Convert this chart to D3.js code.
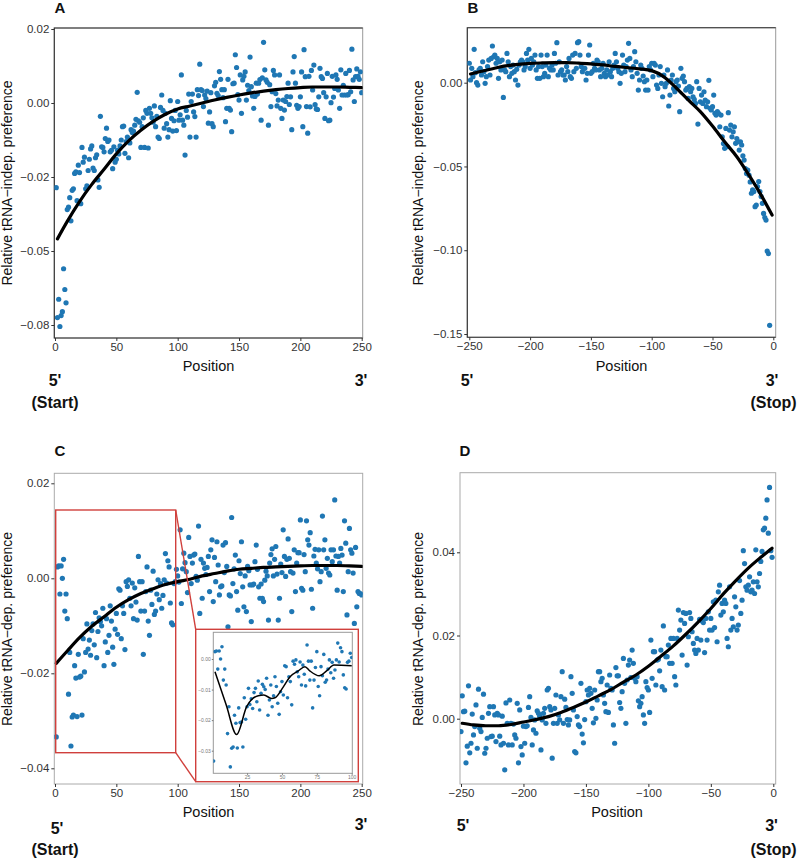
<!DOCTYPE html>
<html><head><meta charset="utf-8">
<script src="https://cdn.jsdelivr.net/npm/d3@7"></script>
<style>
body{margin:0;background:#fff}
svg{display:block}
text{font-family:"Liberation Sans",Arial,Helvetica,sans-serif}
</style>
</head><body>
<svg id="chart" width="797" height="861"></svg>
<script>
// ---------------- DATA ----------------
const posA = d3.range(1, 251);
const valA = [
-0.0286,-0.0725,-0.0663,-0.0755,-0.0718,-0.0705,-0.0560,-0.0630,-0.0675,-0.0360,
-0.0352,-0.0320,-0.0398,-0.0295,-0.0290,-0.0238,-0.0233,-0.0330,-0.0210,-0.0235,
-0.0340,-0.0150,-0.0200,-0.0183,-0.0290,-0.0280,-0.0228,-0.0190,-0.0155,-0.0145,
-0.0220,-0.0228,-0.0185,-0.0175,-0.0260,-0.0285,-0.0045,-0.0148,-0.0150,-0.0165,
-0.0120,-0.0085,-0.0130,-0.0125,-0.0165,-0.0160,-0.0222,-0.0148,-0.0200,-0.0190,
-0.0160,-0.0172,-0.0145,-0.0125,-0.0080,-0.0078,-0.0170,-0.0130,-0.0115,-0.0185,
-0.0135,-0.0090,-0.0100,-0.0095,-0.0075,-0.0055,0.0036,-0.0060,-0.0065,-0.0150,
-0.0080,-0.0050,-0.0150,-0.0025,-0.0035,-0.0152,-0.0018,-0.0035,-0.0050,-0.0065,
-0.0010,-0.0080,-0.0045,-0.0115,-0.0120,-0.0015,0.0027,-0.0025,-0.0085,-0.0035,
-0.0070,-0.0115,-0.0090,0.0008,-0.0052,-0.0095,-0.0060,-0.0025,-0.0093,0.0005,
-0.0058,-0.0040,0.0095,-0.0058,-0.0075,-0.0176,-0.0025,-0.0048,0.0030,-0.0115,
0.0005,0.0030,-0.0030,-0.0046,-0.0115,0.0045,0.0025,0.0131,0.0045,0.0042,
-0.0012,0.0027,0.0015,0.0040,-0.0068,-0.0030,0.0035,-0.0070,-0.0080,0.0058,
0.0070,0.0033,0.0025,0.0106,0.0080,0.0045,0.0018,0.0045,-0.0063,-0.0018,
0.0080,-0.0018,-0.0024,-0.0097,0.0065,0.0067,0.0163,0.0120,0.0028,0.0010,
0.0095,-0.0035,0.0078,0.0090,0.0105,0.0010,0.0060,0.0042,0.0155,0.0055,
0.0024,-0.0018,0.0022,0.0067,0.0030,0.0067,0.0079,-0.0058,0.0085,0.0205,
0.0112,0.0078,0.0070,-0.0075,0.0062,-0.0012,0.0038,0.0110,0.0095,0.0032,
-0.0010,0.0010,0.0095,-0.0018,-0.0052,0.0010,-0.0024,0.0005,0.0022,0.0067,
-0.0005,0.0021,-0.0090,0.0105,0.0157,0.0067,-0.0008,-0.0018,-0.0012,0.0021,
0.0105,-0.0080,0.0180,0.0089,-0.0012,-0.0102,0.0090,-0.0013,0.0110,0.0044,
0.0128,-0.0005,-0.0020,-0.0022,0.0021,0.0117,0.0089,0.0083,0.0035,-0.0052,
0.0021,0.0100,-0.0060,-0.0058,0.0001,0.0090,0.0020,0.0049,0.0095,0.0080,
0.0044,-0.0018,0.0112,0.0027,0.0060,0.0027,0.0100,0.0027,0.0028,0.0110,
0.0038,0.0182,0.0078,0.0005,0.0089,0.0115,0.0090,0.0080,0.0105,0.0035
];
const fitAx = [2,10,20,30,40,50,60,70,80,90,100,110,120,130,140,150,160,170,180,190,200,210,220,230,240,250];
const fitAy = [-0.0459,-0.0400,-0.0333,-0.0275,-0.0224,-0.0172,-0.0128,-0.0092,-0.0062,-0.0038,-0.0020,-0.0010,0.0000,0.0010,0.0019,0.0027,0.0034,0.0040,0.0045,0.0049,0.0052,0.0054,0.0054,0.0054,0.0053,0.0052];

const posB = d3.range(-250, -2);
const valB = [
0.0116,0.0016,0.0086,0.0036,0.0199,0.0060,0.0000,-0.0014,0.0076,0.0086,
0.0046,0.0125,0.0066,-0.0004,0.0036,0.0096,0.0135,0.0046,0.0145,0.0219,
0.0155,0.0165,0.0116,0.0145,0.0026,0.0125,0.0076,0.0135,-0.0088,0.0076,
0.0066,0.0175,0.0125,0.0036,0.0096,0.0056,0.0105,0.0066,0.0016,0.0080,
-0.0014,0.0105,0.0125,0.0135,0.0125,0.0076,0.0096,0.0175,0.0135,0.0199,
0.0086,0.0145,0.0105,0.0125,0.0165,0.0076,0.0026,0.0096,0.0026,0.0165,
0.0096,0.0036,0.0056,0.0105,0.0165,0.0036,0.0086,0.0076,0.0105,0.0076,
0.0175,0.0116,0.0239,0.0046,0.0125,0.0066,0.0076,0.0046,0.0046,0.0016,
0.0096,0.0066,0.0145,0.0036,0.0026,0.0165,0.0066,0.0175,0.0086,0.0239,
0.0245,0.0165,0.0096,0.0066,0.0086,0.0086,0.0016,0.0056,0.0165,0.0225,
0.0056,0.0066,0.0116,0.0086,0.0076,0.0135,0.0125,0.0076,0.0036,0.0086,
0.0116,0.0056,0.0036,0.0076,0.0046,0.0125,0.0066,0.0036,0.0086,0.0105,
0.0175,0.0125,0.0086,0.0066,-0.0004,0.0056,0.0165,0.0105,0.0066,0.0096,
0.0135,0.0235,0.0145,0.0076,0.0036,0.0096,0.0185,0.0125,0.0056,-0.0044,
0.0016,0.0105,0.0086,0.0040,0.0006,-0.0044,0.0016,-0.0044,0.0096,0.0076,
0.0116,0.0036,0.0116,0.0105,-0.0014,-0.0034,0.0046,0.0096,-0.0004,-0.0084,
0.0046,-0.0024,-0.0004,0.0076,-0.0139,-0.0074,0.0016,0.0046,-0.0034,-0.0054,
0.0006,0.0016,-0.0020,-0.0173,0.0086,0.0026,0.0040,0.0006,-0.0044,-0.0034,
-0.0094,-0.0024,-0.0054,-0.0034,-0.0084,-0.0100,-0.0124,0.0006,-0.0247,-0.0034,
-0.0114,-0.0074,-0.0124,-0.0054,-0.0104,-0.0143,-0.0114,0.0014,-0.0153,-0.0163,
-0.0143,-0.0074,-0.0183,-0.0193,-0.0173,-0.0183,-0.0263,-0.0193,-0.0323,-0.0363,
-0.0392,-0.0273,-0.0382,-0.0179,-0.0283,-0.0253,-0.0323,-0.0293,-0.0263,-0.0362,
-0.0333,-0.0353,-0.0402,-0.0353,-0.0372,-0.0436,-0.0462,-0.0512,-0.0542,-0.0522,
-0.0552,-0.0592,-0.0660,-0.0640,-0.0650,-0.0740,-0.0730,-0.0620,-0.0590,-0.0650,
-0.0680,-0.0720,-0.0780,-0.0805,-0.0820,-0.1005,-0.1020,-0.1448
];
const fitBx = [-249,-240,-230,-220,-210,-200,-190,-180,-170,-160,-150,-140,-130,-120,-110,-100,-90,-80,-70,-60,-50,-40,-30,-20,-10,-1];
const fitBy = [0.0052,0.0068,0.0085,0.0100,0.0109,0.0115,0.0118,0.0120,0.0120,0.0117,0.0112,0.0106,0.0097,0.0090,0.0083,0.0072,0.0035,-0.0030,-0.0103,-0.0173,-0.0259,-0.0353,-0.0442,-0.0552,-0.0671,-0.0790];

const posC = d3.range(1, 251);
const valC = [
-0.0334,0.0024,0.0026,-0.0033,0.0026,0.0000,0.0040,-0.0069,-0.0033,-0.0085,
-0.0244,-0.0156,-0.0353,-0.0292,-0.0288,-0.0184,-0.0210,-0.0291,-0.0160,-0.0208,
-0.0206,-0.0288,-0.0127,-0.0197,-0.0156,-0.0096,-0.0149,-0.0130,-0.0162,-0.0110,
-0.0096,-0.0140,-0.0072,-0.0167,-0.0112,-0.0083,-0.0091,-0.0100,-0.0063,-0.0184,
-0.0134,-0.0085,-0.0156,-0.0120,-0.0058,-0.0090,-0.0145,-0.0181,-0.0107,-0.0074,
-0.0118,-0.0022,-0.0025,-0.0127,-0.0058,-0.0074,-0.0150,-0.0007,-0.0017,-0.0003,
-0.0042,-0.0058,-0.0010,-0.0085,-0.0020,-0.0050,-0.0088,0.0046,-0.0007,-0.0069,
-0.0007,-0.0160,-0.0069,-0.0028,0.0024,-0.0090,-0.0120,-0.0025,-0.0055,0.0015,
-0.0076,-0.0069,-0.0033,-0.0003,-0.0045,-0.0011,-0.0063,-0.0036,-0.0003,0.0052,
-0.0010,0.0037,0.0024,-0.0052,-0.0094,-0.0098,-0.0011,-0.0007,0.0019,0.0005,
-0.0008,0.0102,-0.0053,0.0020,0.0053,0.0033,0.0014,-0.0030,0.0086,0.0046,
-0.0011,0.0032,0.0049,0.0051,0.0004,-0.0004,0.0110,-0.0074,0.0040,-0.0042,
0.0032,0.0021,0.0008,0.0023,0.0046,-0.0028,0.0060,0.0081,-0.0049,0.0044,
-0.0007,0.0077,0.0028,-0.0035,-0.0018,-0.0016,0.0070,0.0012,0.0075,0.0025,
-0.0102,-0.0035,-0.0037,0.0128,-0.0011,0.0020,0.0049,-0.0028,-0.0067,0.0037,
0.0010,0.0077,-0.0018,-0.0060,0.0005,-0.0070,0.0025,0.0016,-0.0014,-0.0091,
-0.0014,-0.0012,0.0035,0.0070,0.0019,-0.0018,-0.0042,-0.0012,-0.0042,-0.0049,
-0.0004,0.0015,0.0005,-0.0088,0.0032,0.0050,0.0062,0.0005,0.0040,0.0067,
0.0009,-0.0088,-0.0042,0.0030,0.0012,0.0102,0.0046,0.0004,0.0040,0.0083,
0.0042,0.0014,-0.0070,0.0011,0.0060,-0.0028,0.0032,0.0054,0.0054,0.0123,
-0.0021,-0.0025,0.0050,0.0014,0.0121,0.0081,0.0070,0.0096,-0.0023,-0.0063,
0.0047,0.0061,0.0032,0.0020,0.0060,-0.0007,0.0014,0.0131,0.0060,0.0081,
0.0021,0.0042,0.0011,0.0007,0.0060,0.0035,0.0060,0.0165,0.0047,-0.0025,
0.0046,0.0032,0.0063,0.0049,-0.0028,0.0121,0.0074,-0.0077,0.0014,0.0105,
0.0060,0.0053,0.0011,-0.0095,0.0065,-0.0060,-0.0028,-0.0032,-0.0032,-0.0035
];
const fitCx = [1,10,20,30,40,50,60,70,80,90,100,110,120,130,140,150,160,170,180,190,200,210,220,230,240,250];
const fitCy = [-0.0179,-0.0153,-0.0125,-0.0101,-0.0081,-0.0061,-0.0045,-0.0032,-0.0022,-0.0013,-0.0007,-0.0002,0.0005,0.0010,0.0015,0.0019,0.0021,0.0023,0.0024,0.0025,0.0026,0.0027,0.0027,0.0027,0.0026,0.0025];
// inset (positions 1-100 of panel C, local smoother)
const insetFitX = [2,10,17.5,24.7,33,37,42.6,45,51,55.8,61.7,66.5,70,76.8,82,87.3,100];
const insetFitY = [-0.0042,-0.0150,-0.0247,-0.0156,-0.0120,-0.0118,-0.0129,-0.0127,-0.0091,-0.0058,-0.0039,-0.0025,-0.0039,-0.0055,-0.0039,-0.0020,-0.0022];

const posD = d3.range(-250, 0);
const valD = [
-0.0031,0.0055,0.0017,0.0018,-0.0106,-0.0066,0.0079,-0.0082,-0.0059,0.0011,
-0.0039,-0.0019,0.0033,-0.0071,0.0071,-0.0023,-0.0031,0.0003,0.0059,-0.0083,
-0.0071,-0.0047,0.0013,0.0029,-0.0043,-0.0042,0.0029,0.0009,-0.0055,0.0013,
0.0009,-0.0042,-0.0063,0.0006,-0.0059,-0.0123,0.0038,-0.0011,-0.0063,0.0045,
-0.0011,-0.0063,-0.0013,-0.0039,-0.0047,0.0037,-0.0106,0.0021,-0.0067,-0.0087,
-0.0018,-0.0059,-0.0019,-0.0017,0.0027,0.0053,0.0003,-0.0063,-0.0027,-0.0003,
-0.0035,0.0019,0.0013,0.0006,-0.0075,-0.0003,0.0013,0.0025,-0.0011,0.0069,
0.0073,0.0029,0.0021,-0.0095,-0.0011,0.0025,0.0057,-0.0011,0.0009,-0.0003,
0.0053,0.0113,-0.0011,0.0047,0.0027,-0.0002,-0.0015,-0.0003,0.0101,0.0061,
0.0021,-0.0079,-0.0082,0.0005,-0.0015,-0.0019,0.0085,-0.0037,-0.0058,-0.0002,
0.0041,0.0069,0.0057,0.0073,0.0061,0.0025,-0.0010,0.0069,0.0001,0.0045,
0.0113,0.0113,0.0089,0.0097,0.0057,0.0037,0.0017,0.0081,0.0015,0.0105,
0.0073,0.0069,-0.0015,-0.0059,0.0123,0.0103,0.0103,0.0039,0.0025,0.0065,
0.0145,0.0085,-0.0011,0.0093,0.0129,0.0141,0.0099,0.0165,0.0133,0.0097,
0.0089,0.0101,0.0043,0.0029,0.0037,0.0053,0.0009,-0.0011,0.0089,0.0075,
0.0069,0.0015,0.0189,0.0097,0.0161,0.0161,0.0081,0.0141,0.0143,0.0115,
0.0165,0.0077,0.0223,0.0069,0.0149,0.0149,0.0177,0.0133,0.0193,0.0133,
0.0193,0.0101,0.0081,0.0193,0.0261,0.0213,0.0237,0.0153,0.0255,0.0229,
0.0253,0.0129,0.0197,0.0255,0.0241,0.0209,0.0181,0.0165,0.0157,0.0193,
0.0165,0.0239,0.0189,0.0235,0.0231,0.0159,0.0241,0.0189,0.0257,0.0213,
0.0241,0.0213,0.0281,0.0219,0.0285,0.0185,0.0305,0.0321,0.0249,0.0277,
0.0257,0.0285,0.0277,0.0193,0.0173,0.0317,0.0213,0.0241,0.0221,0.0293,
0.0269,0.0213,0.0225,0.0332,0.0253,0.0285,0.0404,0.0373,0.0317,0.0309,
0.0321,0.0341,0.0305,0.0309,0.0329,0.0301,0.0406,0.0329,0.0317,0.0349,
0.0378,0.0402,0.0454,0.0458,0.0482,0.0526,0.0446,0.0556,0.0404,0.0388
];
const fitDx = [-249,-240,-230,-220,-210,-200,-190,-180,-170,-160,-150,-140,-130,-120,-110,-100,-90,-80,-70,-60,-50,-40,-30,-20,-10,-1];
const fitDy = [-0.0011,-0.0015,-0.0017,-0.0017,-0.0014,-0.0008,-0.0002,0.0005,0.0015,0.0027,0.0040,0.0055,0.0070,0.0088,0.0105,0.0126,0.0150,0.0175,0.0203,0.0233,0.0265,0.0300,0.0332,0.0362,0.0388,0.0410];

// tick values and labels
const xTicksStart = [0, 50, 100, 150, 200, 250];
const xTicksStop = [-250, -200, -150, -100, -50, 0];
const yTicksA = [0.025, 0, -0.025, -0.05, -0.075];
const yLabelsA = ["0.02", "0.00", "\u22120.02", "\u22120.05", "\u22120.08"];
const yTicksB = [0, -0.05, -0.10, -0.15];
const yLabelsB = ["0.00", "\u22120.05", "\u22120.10", "\u22120.15"];
const yTicksC = [0.02, 0, -0.02, -0.04];
const yLabelsC = ["0.02", "0.00", "\u22120.02", "\u22120.04"];
const yTicksD = [0.04, 0.02, 0];
const yLabelsD = ["0.04", "0.02", "0.00"];
const insetXTicks = [25, 50, 75, 100];
const insetYTicks = [0, -0.01, -0.02, -0.03];
const insetYLabels = ["0.00", "\u22120.01", "\u22120.02", "\u22120.03"];

// ---------------- DRAW ----------------
const svg = d3.select("#chart");
const DOT = "#1f77b4";
const RED = "#d0403c";
const fmtStop = d => d === 0 ? "0" : "\u2212" + Math.abs(d);

function drawPanel(cfg) {
  const g = svg.append("g");
  const [bx0, bx1, by0, by1] = cfg.box;
  const x = d3.scaleLinear().domain(cfg.xd).range(cfg.xr);
  const y = d3.scaleLinear().domain(cfg.yd).range(cfg.yr);
  const clipId = "clip" + cfg.id;
  svg.append("clipPath").attr("id", clipId).append("rect")
    .attr("x", bx0).attr("y", by0).attr("width", bx1 - bx0).attr("height", by1 - by0);

  // box
  g.append("rect").attr("x", bx0).attr("y", by0).attr("width", bx1 - bx0).attr("height", by1 - by0)
    .attr("fill", "none").attr("stroke", cfg.boxColor).attr("stroke-width", 1);
  if (cfg.axisColor) {
    g.append("path").attr("d", `M${bx1},${by0}H${bx0}V${by1}H${bx1}`)
      .attr("fill", "none").attr("stroke", cfg.axisColor).attr("stroke-width", 1.1);
  }

  const pg = g.append("g").attr("clip-path", `url(#${clipId})`);
  pg.selectAll("circle").data(cfg.pos.map((p, i) => [p, cfg.vals[i]])).join("circle")
    .attr("cx", d => x(d[0])).attr("cy", d => y(d[1])).attr("r", 2.6).attr("fill", DOT);

  cfg.extra && cfg.extra(g, x, y);

  const line = d3.line().curve(d3.curveMonotoneX).x(d => x(d[0])).y(d => y(d[1]));
  pg.append("path").datum(cfg.fitX.map((p, i) => [p, cfg.fitY[i]]))
    .attr("d", line).attr("fill", "none").attr("stroke", "#000").attr("stroke-width", 3.2)
    .attr("stroke-linecap", "round");

  cfg.after && cfg.after(g, x, y);

  // axes
  const xa = g.append("g").attr("transform", `translate(0,${by1})`)
    .call(d3.axisBottom(x).tickValues(cfg.xt).tickFormat(cfg.xfmt).tickSize(3).tickPadding(2));
  const ya = g.append("g").attr("transform", `translate(${bx0},0)`)
    .call(d3.axisLeft(y).tickValues(cfg.yt).tickFormat((d, i) => cfg.ytl[i]).tickSize(3).tickPadding(2));
  [xa, ya].forEach(a => {
    a.select(".domain").remove();
    a.selectAll("line").attr("stroke", "#333");
    a.selectAll("text").attr("fill", "#333").style("font-size", "11.5px")
      .style("font-family", '"Liberation Sans",Arial,sans-serif');
  });

  // labels
  const t = (txt, xx, yy, opts = {}) => g.append("text").text(txt).attr("x", xx).attr("y", yy)
    .attr("text-anchor", opts.anchor || "middle").attr("fill", "#111")
    .style("font-size", (opts.size || 14.5) + "px").style("font-weight", opts.bold ? "bold" : "normal");
  t(cfg.id, cfg.letter[0], cfg.letter[1], { bold: true, size: 15 });
  t("Position", cfg.posLabel[0], cfg.posLabel[1], { size: 14.5 });
  t("5'", cfg.five[0], cfg.five[1], { bold: true, size: 16 });
  t("3'", cfg.three[0], cfg.three[1], { bold: true, size: 16 });
  t(cfg.endLabel, cfg.end[0], cfg.end[1], { bold: true, size: 16 });
  g.append("text").text(cfg.ylab)
    .attr("transform", `translate(${cfg.ylabPos[0]},${cfg.ylabPos[1]}) rotate(-90)`)
    .attr("text-anchor", "middle").attr("fill", "#111").style("font-size", "14px");
}

drawPanel({
  id: "A", box: [54.3, 362.7, 28, 338], xd: [0, 250], xr: [55, 361.7], yd: [0, 0.025], yr: [103, 29],
  pos: posA, vals: valA, fitX: fitAx, fitY: fitAy,
  xt: xTicksStart, xfmt: d => d, yt: yTicksA, ytl: yLabelsA,
  boxColor: "#999", axisColor: "#333",
  letter: [60, 12.5], posLabel: [208.5, 371], five: [55, 386], three: [361, 386], end: [55, 408], endLabel: "(Start)",
  ylab: "Relative tRNA\u2212indep. preference", ylabPos: [11.5, 183]
});

drawPanel({
  id: "B", box: [467.3, 775.7, 27.7, 337.3], xd: [-250, 0], xr: [469.3, 773.3], yd: [0, -0.15], yr: [82.7, 334],
  pos: posB, vals: valB, fitX: fitBx, fitY: fitBy,
  xt: xTicksStop, xfmt: fmtStop, yt: yTicksB, ytl: yLabelsB,
  boxColor: "#999", axisColor: "#333",
  letter: [473, 12.5], posLabel: [621.5, 371], five: [467, 386], three: [772, 386], end: [773.5, 408], endLabel: "(Stop)",
  ylab: "Relative tRNA\u2212indep. preference", ylabPos: [423, 183]
});

drawPanel({
  id: "C", box: [54.3, 362.7, 473.3, 784], xd: [0, 250], xr: [55, 361.7], yd: [0.02, -0.04], yr: [483.3, 768.3],
  pos: posC, vals: valC, fitX: fitCx, fitY: fitCy,
  xt: xTicksStart, xfmt: d => d, yt: yTicksC, ytl: yLabelsC,
  boxColor: "#aaa", axisColor: null,
  letter: [60, 456], posLabel: [208.5, 816.5], five: [57, 834], three: [361, 830], end: [55, 855], endLabel: "(Start)",
  ylab: "Relative tRNA\u2212dep. preference", ylabPos: [11.5, 629],
  extra: (g, x, y) => {
    // zoom rectangle over positions 0-99
    const rx0 = 55.7, rx1 = 175.7, ry0 = 510, ry1 = 752.7;
    g.append("rect").attr("x", rx0).attr("y", ry0).attr("width", rx1 - rx0).attr("height", ry1 - ry0)
      .attr("fill", "none").attr("stroke", RED).attr("stroke-width", 1.4);
  },
  after: (g, x, y) => {
    const rx1 = 175.7, ry0 = 510, ry1 = 752.7;
    const ox0 = 195.7, ox1 = 358.3, oy0 = 629.3, oy1 = 781.7;
    g.append("line").attr("x1", rx1).attr("y1", ry0).attr("x2", ox0).attr("y2", oy0).attr("stroke", RED).attr("stroke-width", 1.4);
    g.append("line").attr("x1", rx1).attr("y1", ry1).attr("x2", ox0).attr("y2", oy1).attr("stroke", RED).attr("stroke-width", 1.4);
    g.append("rect").attr("x", ox0).attr("y", oy0).attr("width", ox1 - ox0).attr("height", oy1 - oy0)
      .attr("fill", "#fff").attr("stroke", RED).attr("stroke-width", 1.4);
    // inset plot
    const ix0 = 213.3, ix1 = 352.3, iy0 = 632.3, iy1 = 773.3;
    const xi = d3.scaleLinear().domain([0, 100]).range([212.2, 351.7]);
    const yi = d3.scaleLinear().domain([0, -0.03]).range([659, 750.7]);
    svg.append("clipPath").attr("id", "clipInset").append("rect")
      .attr("x", ix0).attr("y", iy0).attr("width", ix1 - ix0).attr("height", iy1 - iy0);
    g.append("rect").attr("x", ix0).attr("y", iy0).attr("width", ix1 - ix0).attr("height", iy1 - iy0)
      .attr("fill", "#fff").attr("stroke", "#999").attr("stroke-width", 1);
    const ig = g.append("g").attr("clip-path", "url(#clipInset)");
    const insetData = posC.map((p, i) => [p, valC[i]]).filter(d => d[0] <= 100);
    ig.selectAll("circle").data(insetData).join("circle")
      .attr("cx", d => xi(d[0])).attr("cy", d => yi(d[1])).attr("r", 1.8).attr("fill", DOT);
    ig.append("path").datum(insetFitX.map((p, i) => [p, insetFitY[i]]))
      .attr("d", d3.line().curve(d3.curveMonotoneX).x(d => xi(d[0])).y(d => yi(d[1])))
      .attr("fill", "none").attr("stroke", "#000").attr("stroke-width", 1.5);
    const xa = g.append("g").attr("transform", `translate(0,${iy1})`)
      .call(d3.axisBottom(xi).tickValues(insetXTicks).tickSize(1.5).tickPadding(1));
    const ya = g.append("g").attr("transform", `translate(${ix0},0)`)
      .call(d3.axisLeft(yi).tickValues(insetYTicks).tickFormat((d, i) => insetYLabels[i]).tickSize(1.5).tickPadding(1));
    [xa, ya].forEach(a => {
      a.select(".domain").remove();
      a.selectAll("line").attr("stroke", "#777");
      a.selectAll("text").attr("fill", "#777").style("font-size", "5px");
    });
  }
});

drawPanel({
  id: "D", box: [460, 775.7, 472.7, 784], xd: [-250, 0], xr: [461, 773.3], yd: [0.04, 0], yr: [552.3, 718.7],
  pos: posD, vals: valD, fitX: fitDx, fitY: fitDy,
  xt: xTicksStop, xfmt: fmtStop, yt: yTicksD, ytl: yLabelsD,
  boxColor: "#aaa", axisColor: null,
  letter: [465, 456], posLabel: [617, 816.5], five: [463, 831], three: [771.5, 831], end: [773.5, 855], endLabel: "(Stop)",
  ylab: "Relative tRNA\u2212dep. preference", ylabPos: [423, 629]
});
</script>
</body></html>
